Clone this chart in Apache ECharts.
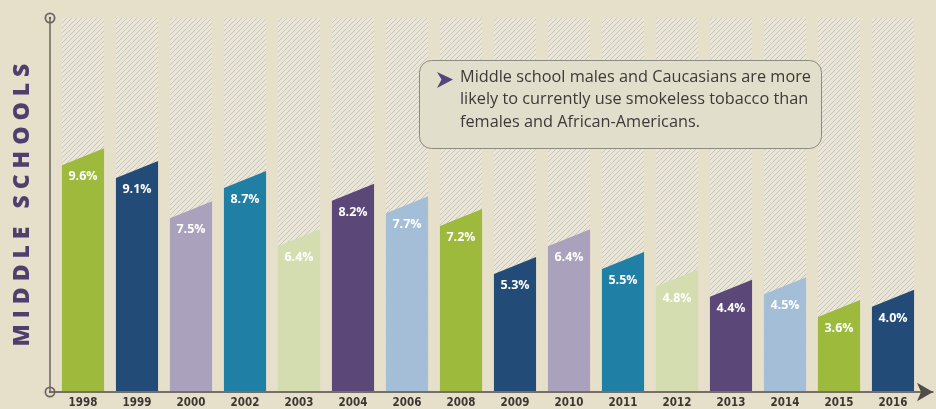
<!DOCTYPE html>
<html><head><meta charset="utf-8">
<script src="https://cdn.jsdelivr.net/npm/echarts@6/dist/echarts.min.js"></script>
<style>html,body{margin:0;padding:0;background:#e6dfca;}#c{width:936px;height:409px;}</style>
</head><body><div id="c"></div>
<script>
const years = ['1998','1999','2000','2002','2003','2004','2006','2008','2009','2010','2011','2012','2013','2014','2015','2016'];
const rates = [9.6, 9.1, 7.5, 8.7, 6.4, 8.2, 7.7, 7.2, 5.3, 6.4, 5.5, 4.8, 4.4, 4.5, 3.6, 4.0];
const palette = ['#9dba3c','#234b78','#aaa1bd','#1f7fa4','#d4ddb0','#5b4879','#a4bed8'];
const axisTitle = 'M I D D L E   S C H O O L S';
const noteLines = ['Middle school males and Caucasians are more','likely to currently use smokeless tobacco than','females and African-Americans.'];

// hatch pattern
const pc = document.createElement('canvas');
pc.width = 5; pc.height = 5;
const g = pc.getContext('2d');
g.fillStyle = '#e9e5d8'; g.fillRect(0,0,5,5);
g.strokeStyle = 'rgba(140,130,112,0.32)'; g.lineWidth = 1;
g.beginPath();
g.moveTo(-1,6); g.lineTo(6,-1);
g.moveTo(-1,1); g.lineTo(1,-1);
g.moveTo(4,6); g.lineTo(6,4);
g.stroke();

const ring = 'path://M0,5a5,5 0 1,0 10,0a5,5 0 1,0 -10,0Z M1.6,5a3.4,3.4 0 1,1 6.8,0a3.4,3.4 0 1,1 -6.8,0Z M3.9,5a1.1,1.1 0 1,0 2.2,0a1.1,1.1 0 1,0 -2.2,0Z';

const chart = echarts.init(document.getElementById('c'));
chart.setOption({
  backgroundColor: '#e6dfca',
  animation: false,
  grid: [
    {left: 56, right: 16, top: 18, bottom: 18},
    {left: 50, right: 3, top: 18, bottom: 17}
  ],
  xAxis: [
    {type: 'category', data: years, gridIndex: 0,
     axisLine: {show: false}, axisTick: {show: false},
     axisLabel: {margin: 6, color: '#3a3733', fontSize: 11.5, fontWeight: 'bold', fontFamily: 'DejaVu Sans Condensed'}},
    {type: 'value', gridIndex: 1, min: 0, max: 1, axisLabel: {show: false}, axisTick: {show: false}, splitLine: {show: false},
     axisLine: {show: true, symbol: ['none','arrow'], symbolSize: [14, 16], lineStyle: {color: '#4f4c49', width: 1.5}}}
  ],
  yAxis: [
    {type: 'value', gridIndex: 0, min: 0, max: 14.75, show: false},
    {type: 'value', gridIndex: 1, min: 0, max: 1, axisLabel: {show: false}, axisTick: {show: false}, splitLine: {show: false},
     axisLine: {show: true, symbol: [ring, ring], symbolSize: [11, 11], lineStyle: {color: '#6a6662', width: 1.5}},
     name: axisTitle, nameLocation: 'middle', nameRotate: 90, nameGap: 16,
     nameTextStyle: {color: '#4f3f6d', fontSize: 23, fontWeight: 800, fontFamily: 'Open Sans'}}
  ],
  series: [{
    type: 'custom',
    xAxisIndex: 0, yAxisIndex: 0,
    data: rates.map((v, i) => [i, v]),
    renderItem: function (params, api) {
      const i = api.value(0), v = api.value(1);
      const top = api.coord([i, v]);
      const base = api.coord([i, 0]);
      const band = api.size([1, 0])[0];
      const w = band * 0.78;
      const cs = params.coordSys;
      const x0 = top[0] - w / 2, x1 = top[0] + w / 2;
      const slant = 17;
      return {
        type: 'group',
        children: [
          {type: 'rect', shape: {x: x0, y: cs.y, width: w, height: base[1] - cs.y},
           style: {fill: {image: pc, repeat: 'repeat'}}},
          {type: 'polygon', shape: {points: [[x0, top[1] + slant], [x1, top[1]], [x1, base[1]], [x0, base[1]]]},
           style: {fill: palette[i % palette.length]}},
          {type: 'text', style: {text: v.toFixed(1) + '%', x: top[0], y: top[1] + slant / 2 + 20,
           align: 'center', verticalAlign: 'middle', fill: '#ffffff', font: 'bold 12.5px "Open Sans"'}}
        ]
      };
    }
  }],
  graphic: [
    {type: 'rect', left: 419, top: 60, shape: {width: 402, height: 88, r: 12},
     style: {fill: '#e1dfcc', stroke: '#8d8a80', lineWidth: 1}, z: 10},
    {type: 'polygon', shape: {points: [[437,72],[453,79.5],[437,88],[441.5,79.5]]}, style: {fill: '#56447c'}, z: 11},
    {type: 'text', left: 460, top: 66, z: 11,
     style: {text: noteLines.join('\n'), font: '16.3px "Open Sans"', lineHeight: 22.5, fill: '#3b3a38'}}
  ]
});
</script>
</body></html>
